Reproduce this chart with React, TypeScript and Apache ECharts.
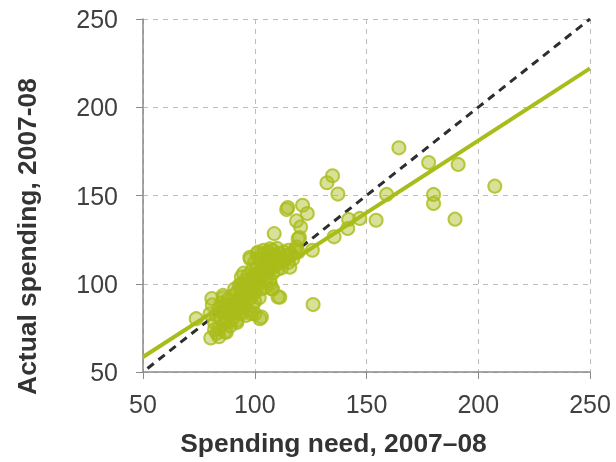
import React, { useEffect, useRef } from "react";
import * as echarts from "echarts";

const xAxisTitle = "Spending need, 2007–08";
const yAxisTitle = "Actual spending, 2007-08";
const axisMin = 50;
const axisMax = 250;
const axisStep = 50;

// [spending need, actual spending]
const outlierPoints: number[][] = [
  [164.5, 177], [177.8, 168.7], [191, 167.6], [207.4, 155.3], [180, 150.6], [180, 145.5],
  [189.6, 136.6], [159, 150.6], [154.3, 136], [147, 137], [142, 136.4], [141.6, 131.3],
  [135.5, 126.6], [132.3, 157.2], [134.8, 161.2], [137.2, 150.8], [126.1, 88.2], [125.8, 119],
  [114.8, 143.2], [114.3, 142], [121.4, 144.5], [123.5, 139.8], [118.7, 135.6], [120.5, 132.2],
  [120, 126.2], [108.7, 128.4], [110.4, 92.5], [102.3, 80.2], [73.8, 80.2], [80.3, 69.3],
  [86.5, 72.7], [80.8, 91.6], [100, 83], [85.8, 93.4], [87.3, 72.5], [91.8, 79.2], [98.5, 83],
  [103, 81.1], [94, 103.8], [97.8, 115], [101.5, 118], [106.8, 119.8], [111.2, 92.4],
  [107.5, 97.2], [106.7, 101.9], [115.7, 109.4], [119.4, 118], [118.7, 120.8], [119.4, 125.5],
];

const clusterPoints: number[][] = [
  [82, 78], [83, 82], [84, 75], [84, 86], [85, 80], [85, 89], [86, 84], [86, 77], [87, 81], [87, 88],
  [88, 85], [88, 79], [88, 91], [89, 83], [89, 87], [90, 86], [90, 80], [90, 93], [91, 88], [91, 84],
  [92, 90], [92, 95], [92, 86], [93, 92], [93, 88], [93, 83], [94, 96], [94, 90], [94, 100], [95, 93],
  [95, 87], [95, 98], [96, 95], [96, 102], [96, 90], [97, 99], [97, 94], [97, 105], [98, 97], [98, 101],
  [98, 92], [99, 103], [99, 96], [99, 108], [100, 100], [100, 105], [100, 95], [100, 112], [101, 103],
  [101, 98], [101, 109], [102, 106], [102, 101], [102, 114], [103, 108], [103, 104], [103, 97],
  [104, 111], [104, 106], [104, 117], [105, 109], [105, 103], [105, 114], [106, 112], [106, 107],
  [106, 118], [107, 110], [107, 115], [108, 113], [108, 106], [108, 119], [109, 116], [109, 111],
  [110, 114], [110, 108], [110, 120], [111, 117], [111, 112], [112, 115], [112, 109], [113, 118],
  [113, 113], [114, 116], [115, 119], [115, 112], [116, 117], [117, 114], [118, 119], [83, 72],
  [81, 88], [86, 92], [89, 76], [97, 85], [99, 88], [96, 82], [102, 92], [105, 98], [107, 100],
  [108, 97], [95, 106], [98, 114], [101, 117], [104, 119], [93, 99], [91, 97], [85, 85], [80, 83],
  [82, 74], [84, 70], [92, 78], [94, 83], [100, 90],
];

// regression line endpoints and the 45-degree line endpoints
const fitLine: number[][] = [[50, 58.5], [250, 222]];
const equalityLine: number[][] = [[52, 52], [250, 250]];

const FONT = "Liberation Sans, Arial, sans-serif";

function fitFontSize(text: string, targetWidth: number, fallback: number): number {
  try {
    const c = document.createElement("canvas");
    const ctx = c.getContext("2d");
    if (!ctx) return fallback;
    ctx.font = `bold 100px "Liberation Sans", Arial, sans-serif`;
    const w = ctx.measureText(text).width;
    if (!w) return fallback;
    return Math.round(((targetWidth * 100) / w) * 10) / 10;
  } catch (e) {
    return fallback;
  }
}

export default function App() {
  const ref = useRef<HTMLDivElement>(null);
  useEffect(() => {
    if (!ref.current) return;
    const chart = echarts.init(ref.current, undefined, { renderer: "svg" });
    const green = "#a9bd1a";
    const tickLabel = { fontFamily: FONT, fontSize: 25, color: "#404040" };
    const xNameSize = fitFontSize(xAxisTitle, 307, 26.4);
    const yNameSize = fitFontSize(yAxisTitle, 317, 26.4);
    const splitLine = { show: true, lineStyle: { color: "#bdbdbd", type: [5, 5] as any, width: 1 } };
    const axisLine = { show: true, onZero: false, lineStyle: { color: "#8a8a8a", width: 1.5 } };
    chart.setOption({
      animation: false,
      grid: { left: 143, right: 26, top: 19, bottom: 90, containLabel: false },
      graphic: [
        {
          type: "text",
          x: 333.5,
          y: 443,
          style: {
            text: xAxisTitle,
            fontFamily: FONT,
            fontSize: xNameSize,
            fontWeight: "bold",
            fill: "#333",
            align: "center",
            verticalAlign: "middle",
          },
        },
        {
          type: "text",
          x: 27,
          y: 236.5,
          rotation: Math.PI / 2,
          style: {
            text: yAxisTitle,
            fontFamily: FONT,
            fontSize: yNameSize,
            fontWeight: "bold",
            fill: "#333",
            align: "center",
            verticalAlign: "middle",
          },
        },
      ],
      xAxis: {
        type: "value",
        min: axisMin,
        max: axisMax,
        interval: axisStep,
        axisLine,
        axisTick: { show: true, length: 7, lineStyle: { color: "#8a8a8a" } },
        axisLabel: { ...tickLabel, margin: 19 },
        splitLine,
      },
      yAxis: {
        type: "value",
        min: axisMin,
        max: axisMax,
        interval: axisStep,
        axisLine,
        axisTick: { show: true, length: 7, lineStyle: { color: "#8a8a8a" } },
        axisLabel: { ...tickLabel, margin: 25 },
        splitLine,
      },
      series: [
        {
          type: "line",
          data: equalityLine,
          symbol: "none",
          lineStyle: { color: "#2e2e2e", width: 3, type: [8, 6] as any },
          z: 2,
        },
        {
          type: "line",
          data: fitLine,
          symbol: "none",
          lineStyle: { color: green, width: 4 },
          z: 2,
        },
        {
          type: "scatter",
          data: [...clusterPoints, ...outlierPoints],
          symbolSize: 13,
          itemStyle: { color: "rgba(169,189,26,0.56)", borderColor: green, borderWidth: 2 },
          z: 3,
        },
      ],
    });
    return () => chart.dispose();
  }, []);
  return (
    <div
      ref={ref}
      style={{ position: "fixed", left: 0, top: 0, width: 616, height: 462 }}
    />
  );
}
